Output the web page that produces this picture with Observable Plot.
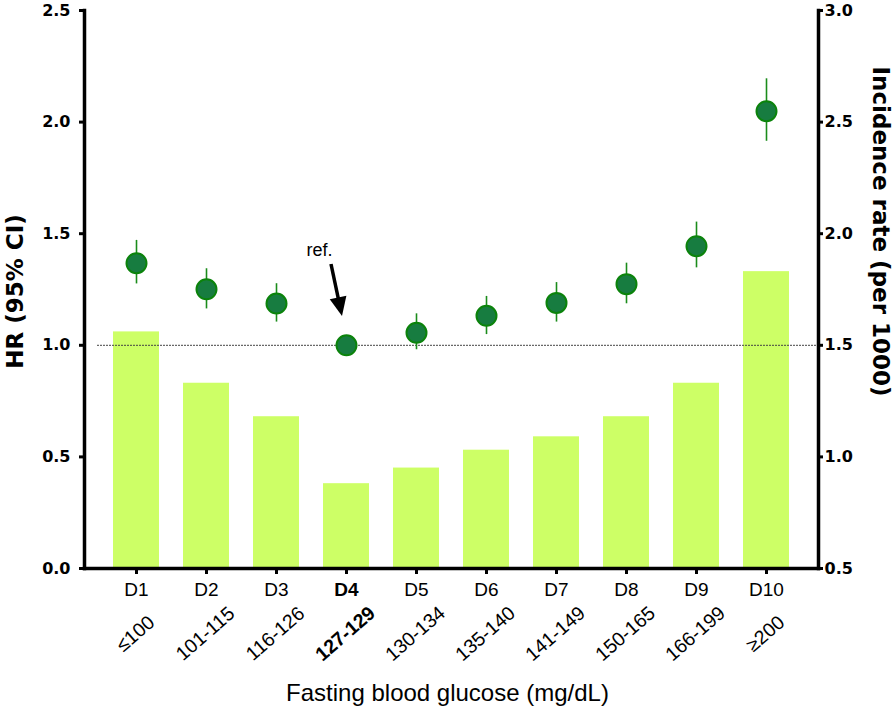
<!DOCTYPE html>
<html><head><meta charset="utf-8">
<script src="https://cdn.jsdelivr.net/npm/d3@7"></script>
<script src="https://cdn.jsdelivr.net/npm/@observablehq/plot@0.6"></script>
<style>
body{margin:0;background:#fff;}
#chart svg{display:block}
</style>
</head><body><div id="chart"></div>
<script>
// ---- data ----
const deciles = ["D1","D2","D3","D4","D5","D6","D7","D8","D9","D10"];
const glucoseRanges = ["≤100","101-115","116-126","127-129","130-134","135-140","141-149","150-165","166-199","≥200"];
const incidenceRate = [1.56,1.33,1.18,0.88,0.95,1.03,1.09,1.18,1.33,1.83];
const hazardRatio = [1.368,1.251,1.187,1.000,1.056,1.132,1.190,1.274,1.444,2.049];
const hrLower = [1.275,1.163,1.104,null,0.980,1.048,1.104,1.186,1.347,1.914];
const hrUpper = [1.470,1.343,1.276,null,1.141,1.219,1.281,1.368,1.552,2.194];
const refDecile = "D4";
const refLabel = "ref.";
const refLabelHR = 1.425, refArrowTailHR = 1.362, refArrowTipHR = 1.129;
const leftTicks = [0,0.5,1.0,1.5,2.0,2.5];
const rightTicks = [0.5,1.0,1.5,2.0,2.5,3.0];
const leftTitle = "HR (95% CI)";
const rightTitle = "Incidence rate (per 1000)";
const xTitle = "Fasting blood glucose (mg/dL)";

// the right axis is the left one shifted by a constant
const offset = rightTicks[0] - leftTicks[0];

const rows = deciles.map((d, i) => ({
  d, range: glucoseRanges[i], inc: incidenceRate[i], hr: hazardRatio[i], lo: hrLower[i], hi: hrUpper[i]
}));

const font = "'Liberation Sans', Arial, sans-serif";
const boldFont = "'DejaVu Sans', 'Liberation Sans', sans-serif";

function refArrow(index, scales) {
  const bw = scales.x.bandwidth ? scales.x.bandwidth() : 0;
  const xc = scales.x(refDecile) + bw / 2;
  const tail = [xc - 15, scales.y(refArrowTailHR)];
  const tip = [xc - 4, scales.y(refArrowTipHR)];
  const ang = Math.atan2(tip[1] - tail[1], tip[0] - tail[0]);
  const hl = 19, hw = 8.5;
  const bx = tip[0] - hl * Math.cos(ang), by = tip[1] - hl * Math.sin(ang);
  const px = -Math.sin(ang), py = Math.cos(ang);
  const g = d3.create("svg:g");
  g.append("line").attr("x1", tail[0]).attr("y1", tail[1])
    .attr("x2", bx + 2 * Math.cos(ang)).attr("y2", by + 2 * Math.sin(ang))
    .attr("stroke", "#000").attr("stroke-width", 3.5);
  g.append("path")
    .attr("d", `M${tip[0]},${tip[1]}L${bx + hw * px},${by + hw * py}L${bx - hw * px},${by - hw * py}Z`)
    .attr("fill", "#000");
  return g.node();
}

const plot = Plot.plot({
  width: 896,
  height: 717,
  marginLeft: 84,
  marginRight: 78,
  marginTop: 10,
  marginBottom: 149,
  style: {fontFamily: font, background: "#fff", color: "#000"},
  x: {domain: deciles, padding: 0.34, axis: null},
  y: {domain: [leftTicks[0], leftTicks[leftTicks.length - 1]], axis: null},
  marks: [
    Plot.barY(rows, {x: "d", y1: 0, y2: r => r.inc - offset, fill: "#cdff66"}),
    Plot.ruleY([1], {stroke: "#444", strokeWidth: 1, strokeDasharray: "2,1", insetLeft: 13}),
    Plot.ruleX(rows.filter(r => r.lo != null), {x: "d", y1: "lo", y2: "hi", stroke: "#1b8c1b", strokeWidth: 1.6}),
    Plot.dot(rows, {x: "d", y: "hr", r: 10, fill: "#177c40", stroke: "#0b830b", strokeWidth: 2}),
    refArrow,
    Plot.text([refLabel], {x: () => refDecile, y: () => refLabelHR, text: d => d, dx: -27, fontSize: 18}),
    // axes lines
    Plot.frame({anchor: "left", strokeWidth: 3.5}),
    Plot.frame({anchor: "right", strokeWidth: 3.5}),
    Plot.frame({anchor: "bottom", strokeWidth: 3.5}),
    // left axis
    Plot.axisY(leftTicks, {anchor: "left", tickSize: 5, strokeWidth: 3, tickPadding: 9,
      tickFormat: d => d.toFixed(1), fontSize: 16, fontWeight: "bold", fontFamily: boldFont, label: null}),
    // right axis
    Plot.axisY(rightTicks.map(v => v - offset), {anchor: "right", tickSize: 4, strokeWidth: 3, tickPadding: 2,
      tickFormat: d => (d + offset).toFixed(1), fontSize: 16, fontWeight: "bold", fontFamily: boldFont, label: null}),
    // x axis ticks
    Plot.axisX({anchor: "bottom", tickSize: 6, strokeWidth: 3, tickFormat: () => "", label: null}),
    Plot.text(rows.filter(r => r.d !== refDecile), {x: "d", text: "d", frameAnchor: "bottom", dy: 27, fontSize: 19}),
    Plot.text(rows.filter(r => r.d === refDecile), {x: "d", text: "d", frameAnchor: "bottom", dy: 27, fontSize: 19, fontWeight: "bold"}),
    Plot.text(rows.filter(r => r.d !== refDecile), {x: "d", text: "range", frameAnchor: "bottom", dy: 70, dx: 3, rotate: -41, fontSize: 19.5}),
    Plot.text(rows.filter(r => r.d === refDecile), {x: "d", text: "range", frameAnchor: "bottom", dy: 70, dx: 3, rotate: -41, fontSize: 19.5, fontWeight: "bold"}),
    // titles
    Plot.text([xTitle], {frameAnchor: "bottom", text: d => d, dy: 132, dx: -4, fontSize: 24}),
    Plot.text([leftTitle], {frameAnchor: "left", textAnchor: "middle", text: d => d, dx: -69, dy: 2, rotate: -90,
      fontSize: 23, fontWeight: "bold", fontFamily: boldFont}),
    Plot.text([rightTitle], {frameAnchor: "right", textAnchor: "middle", text: d => d, dx: 62, dy: -58, rotate: 90,
      fontSize: 23, fontWeight: "bold", fontFamily: boldFont})
  ]
});
document.getElementById("chart").appendChild(plot);
</script>
</body></html>
